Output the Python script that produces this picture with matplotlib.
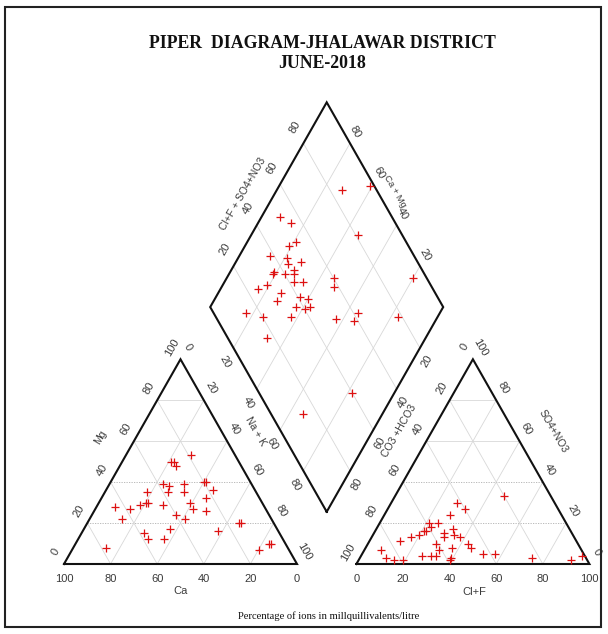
import numpy as np
import matplotlib

matplotlib.use("Agg")
import matplotlib.pyplot as plt
from matplotlib.patches import Rectangle

# cation triangle, % of meq/l
cat_mg = [53, 50, 50, 48, 40, 40, 39, 35, 39, 38, 35, 36, 35, 32, 30, 27, 26, 30, 29,
          30, 29, 28, 27, 24, 22, 22, 20, 20, 17, 16, 15, 12, 12, 10, 10, 7, 8]
cat_na = [28, 21, 22, 24, 40, 41, 32, 34, 23, 26, 27, 46, 18, 45, 39, 42, 48, 21, 18,
          20, 28, 8, 15, 36, 41, 14, 65, 66, 37, 58, 27, 30, 37, 83, 84, 80, 14]

# anion triangle, % of meq/l
an_so4 = [33, 30, 27, 24, 20, 20, 16, 15, 17, 14, 13, 18, 16, 14, 13, 10, 11, 8,
          7, 10, 8, 7, 3, 2, 2, 4, 4, 4, 3, 5, 5, 3, 2, 4, 13, 2]
an_cl = [47, 28, 33, 28, 21, 25, 22, 30, 33, 35, 31, 23, 21, 20, 17, 29, 13, 37,
         32, 43, 45, 7, 11, 15, 19, 26, 30, 32, 39, 52, 57, 74, 91, 95, 38, 39]

# diamond field: Na+K and Cl+F+SO4+NO3, %
dia_na = [28, 39, 8, 14, 46, 19, 21, 13, 21, 23, 28, 19, 19, 24, 27, 28, 19, 16, 30, 34,
          46, 48, 27, 27, 36, 40, 37, 41, 43, 17, 25, 37, 57, 65, 65, 83, 80, 32, 66, 82]
dia_clso4 = [85, 98, 52, 55, 81, 49, 53, 38, 45, 44, 50, 36, 35, 40, 45, 44, 30, 25, 42, 46,
             60, 58, 34, 30, 41, 44, 37, 40, 43, 14, 20, 32, 51, 58, 62, 78, 94, 17, 14, 40]

ticks = [0, 20, 40, 60, 80, 100]
inner = [20, 40, 60, 80]

GAP = 0.255
H = np.sqrt(3) / 2
X0 = 1 + GAP  # left corner of the anion triangle

W, HT = 608, 634
PX, PY, OX, OY = 233.0, 236.4, 64.0, 564.0

RED = "#dd1111"
TXT = "#3a3a3a"
GRID = "#d8d8d8"
SANS = "Liberation Sans"
SERIF = "Liberation Serif"


def cation_xy(mg, na):
    mg = np.asarray(mg) / 100
    na = np.asarray(na) / 100
    return na + mg / 2, mg * H


def anion_xy(so4, cl):
    so4 = np.asarray(so4) / 100
    cl = np.asarray(cl) / 100
    return X0 + cl + so4 / 2, so4 * H


def diamond_xy(na, a):
    na = np.asarray(na) / 100
    a = np.asarray(a) / 100
    return (1 + GAP + a + na) / 2, (1 + GAP + a - na) * H


def label(ax, x, y, s, dx, dy, rot=0, size=8):
    ax.annotate(s, (x, y), xytext=(dx, dy), textcoords="offset pixels",
                ha="center", va="center", rotation=rot, fontsize=size,
                color=TXT, family=SANS, rotation_mode="anchor")


def triangle(ax, x0):
    # grid first, outline over it
    for v in np.array(inner) / 100:
        dotted = v <= 0.4
        ax.plot([x0 + v / 2, x0 + 1 - v / 2], [v * H, v * H],
                color="#b0b0b0" if dotted else GRID,
                ls=(0, (1.5, 1.5)) if dotted else "-", lw=0.6, zorder=1)
        ax.plot([x0 + v, x0 + v + (1 - v) / 2], [0, (1 - v) * H], color=GRID, lw=0.6, zorder=1)
        ax.plot([x0 + 1 - v, x0 + (1 - v) / 2], [0, (1 - v) * H], color=GRID, lw=0.6, zorder=1)
    ax.plot([x0, x0 + 1, x0 + 0.5, x0], [0, 0, H, 0], color="#111111", lw=1.5,
            solid_joinstyle="miter", zorder=2)


fig = plt.figure(figsize=(W / 100, HT / 100), dpi=100)
ax = fig.add_axes([0, 0, 1, 1])
ax.set_xlim(-OX / PX, (W - OX) / PX)
ax.set_ylim((OY - HT) / PY, OY / PY)
ax.axis("off")

triangle(ax, 0.0)
triangle(ax, X0)

# diamond grid and outline
for v in inner:
    xs, ys = diamond_xy([v, v], [0, 100])
    ax.plot(xs, ys, color=GRID, lw=0.6, zorder=1)
    xs, ys = diamond_xy([0, 100], [v, v])
    ax.plot(xs, ys, color=GRID, lw=0.6, zorder=1)
xs, ys = diamond_xy([100, 0, 0, 100, 100], [0, 0, 100, 100, 0])
ax.plot(xs, ys, color="#111111", lw=1.5, solid_joinstyle="miter", zorder=2)

# cation triangle scales
for t in ticks:
    f = t / 100
    label(ax, 1 - f, 0, str(t), 0, -15)
    label(ax, f / 2, f * H, str(t), -8, 12, 60)
    label(ax, f + (1 - f) / 2, (1 - f) * H, str(t), 7, 12, -60)
label(ax, 0.5, 0, "Ca", 0, -27)
label(ax, 0.25, 0.5 * H, "Mg", -22, 24, 60, 7.5)
label(ax, 0.75, 0.5 * H, "Na + K", 17, 30, -60, 7.5)

# anion triangle scales
for t in ticks:
    f = t / 100
    label(ax, X0 + f, 0, str(t), 0, -15)
    label(ax, X0 + (1 - f) / 2, (1 - f) * H, str(t), -8, 12, 60)
    label(ax, X0 + (1 - f) + f / 2, f * H, str(t), 7, 12, -60)
label(ax, X0 + 0.5, 0, "Cl+F", 1, -28)
label(ax, X0 + 0.25, 0.5 * H, "CO3 +HCO3", -15, 31, 60, 7.5)
label(ax, X0 + 0.75, 0.5 * H, "SO4+NO3", 22, 30, -60, 7.5)

# diamond scales
for t in inner:
    x, y = diamond_xy(0, t)
    label(ax, x, y, str(t), -8.5, 16.5, 60)
    x, y = diamond_xy(100 - t, 100)
    label(ax, x, y, str(t), 5.5, 11, -60)
    x, y = diamond_xy(t, 0)
    label(ax, x, y, str(t), -8.5, -14, -60)
    x, y = diamond_xy(100, 100 - t)
    label(ax, x, y, str(t), 7, -13.5, 60)
x, y = diamond_xy(0, 50)
label(ax, x, y, "Cl+F + SO4+NO3", -26, 11, 60, 7.5)
x, y = diamond_xy(50, 100)
label(ax, x, y, "Ca + Mg", 10, 13, -60, 6.8)

# samples
mk = dict(ls="none", marker="+", ms=5.5, mew=0.9, color=RED, zorder=3)
ax.plot(*cation_xy(cat_mg, cat_na), **mk)
ax.plot(*anion_xy(an_so4, an_cl), **mk)
ax.plot(*diamond_xy(dia_na, dia_clso4), **mk)

fig.text(322 / W, 1 - 44 / HT, "PIPER  DIAGRAM-JHALAWAR DISTRICT", ha="center", va="center",
         fontsize=12.8, fontweight="bold", family=SERIF, color="#111111")
fig.text(322 / W, 1 - 64 / HT, "JUNE-2018", ha="center", va="center",
         fontsize=12.8, fontweight="bold", family=SERIF, color="#111111")
fig.text(329 / W, 1 - 616 / HT, "Percentage of ions in millquillivalents/litre",
         ha="center", va="center", fontsize=7.6, family=SERIF, color="#111111")

fig.add_artist(Rectangle((5 / W, 1 - 627 / HT), 596 / W, 620 / HT, fill=False,
                         ec="#222222", lw=1.5, transform=fig.transFigure))

fig.savefig("out.png", dpi=100)
plt.close(fig)
